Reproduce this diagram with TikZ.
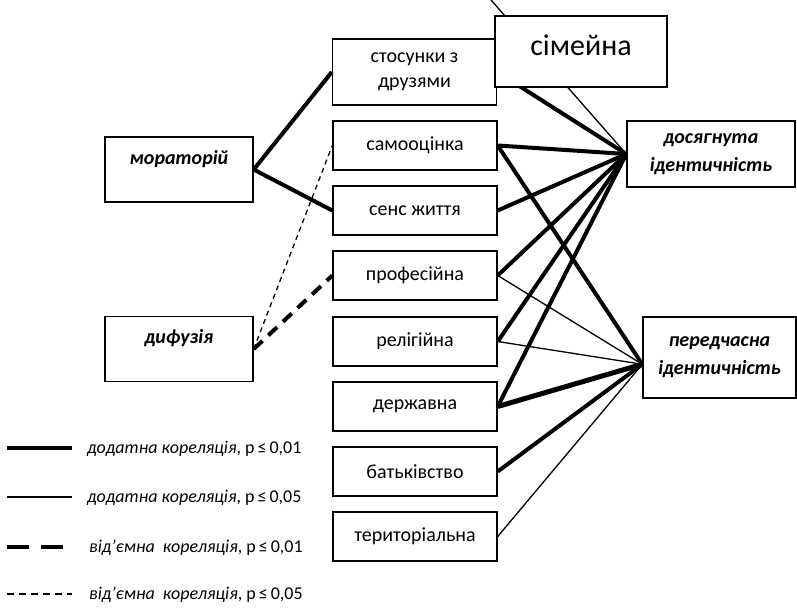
\documentclass[tikz,border=0pt]{standalone}
\usepackage{fontspec}
\setmainfont{Carlito}
\usetikzlibrary{positioning, calc}

\begin{document}
\begin{tikzpicture}[
    x=1pt, y=-1pt,
    factor/.style={draw, line width=1.4pt, minimum width=164pt, minimum height=49pt, inner sep=0pt, align=center, font=\fontsize{20}{25}\selectfont},
    status/.style={draw, line width=1.4pt, inner sep=0pt, align=center, font=\fontsize{20}{28}\selectfont\bfseries\itshape},
    lowtext/.style={text height=20pt, text depth=31pt, inner ysep=7pt},
    pos01/.style={line width=4pt},
    pos05/.style={line width=1.3pt},
    neg01/.style={line width=4pt, dash pattern=on 12pt off 8pt},
    neg05/.style={line width=1.3pt, dash pattern=on 5pt off 4pt},
    legtext/.style={anchor=west, inner sep=0pt, font=\fontsize{18}{20}\selectfont}
]

\useasboundingbox (0,0) rectangle (797,608);

% ===== Identity statuses =====
\node[status, lowtext, minimum width=148pt] (morat) at (179,169.5) {мораторій};
\node[status, lowtext, minimum width=148pt] (dyfuz) at (179,349) {дифузія};
\node[status, minimum width=168pt, minimum height=66pt] (dosyag) at (711,154) {досягнута\\ідентичність};
\node[status, minimum width=153pt, minimum height=81pt] (pered) at (719.5,357.5) {передчасна\\ідентичність};

% ===== Domains =====
\node[factor, minimum height=66pt] (druzi) at (414.5,72) {стосунки з\\друзями};
\node[factor] (samoots) at (415,145.5) {самооцінка};
\node[factor] (sens)    at (415,210.5) {сенс життя};
\node[factor] (prof)    at (415,275.5) {професійна};
\node[factor] (relig)   at (415,341.5) {релігійна};
\node[factor] (derzh)   at (415,406.5) {державна};
\node[factor] (batk)    at (415,471.5) {батьківство};
\node[factor] (terr)    at (415,536.5) {територіальна};

\coordinate (simtop) at (491,0);

% Connections to moratorium and diffusion
\draw[pos01] (morat.east) -- (druzi.west);
\draw[pos01] (morat.east) -- (sens.west);
\draw[neg05] (dyfuz.east) -- (samoots.west);
\draw[neg01] (dyfuz.east) -- (prof.west);

% Connections to achieved identity
\draw[pos05] (simtop) -- (dosyag.west);
\draw[pos01] (druzi.east) -- (dosyag.west);
\foreach \n in {samoots, sens, prof, relig, derzh} {
    \draw[pos01] (\n.east) -- (dosyag.west);
}

% Connections to foreclosure
\draw[pos01] (samoots.east) -- (pered.185);
\draw[pos05] (prof.east) -- (pered.185);
\draw[pos05] (relig.east) -- (pered.185);
\draw[pos01, line width=5pt] (derzh.east) -- (pered.185);
\draw[pos01] (batk.east) -- (pered.185);
\draw[pos05] (terr.east) -- (pered.185);

% Family box on top
\node[draw, fill=white, line width=1.4pt, minimum width=172pt, minimum height=71pt, inner sep=0pt, font=\fontsize{30}{33}\selectfont, text height=22pt, text depth=15pt] (simeyna) at (581,51.5) {сімейна};

% ===== Legend =====
\draw[pos01] (7,448) -- (72,448);
\draw[pos05] (7,497) -- (72,497);
\draw[line width=4pt, dash pattern=on 22pt off 12pt] (7,547) -- (72,547);
\draw[pos05, dash pattern=on 7pt off 5pt] (7,594) -- (72,594);
\node[legtext] (leg1) at (87,449) {\textit{додатна кореляція}, p\,≤\,0,01};
\node[legtext] (leg2) at (87,498) {\textit{додатна кореляція}, p\,≤\,0,05};
\node[legtext] (leg3) at (89,548) {\textit{від’ємна\ \ кореляція}, p\,≤\,0,01};
\node[legtext] (leg4) at (89,595) {\textit{від’ємна\ \ кореляція}, p\,≤\,0,05};

\end{tikzpicture}
\end{document}
